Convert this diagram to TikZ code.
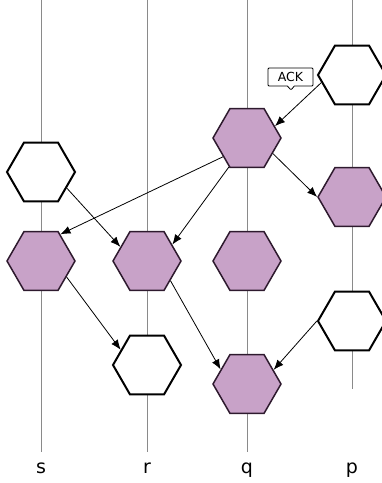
\documentclass[tikz,border=0pt]{standalone}
\usepackage{fontspec}
\setmainfont{DejaVu Sans}
\usetikzlibrary{shapes.geometric,shapes.callouts,arrows.meta}
\definecolor{evt}{HTML}{C8A2C8}
\definecolor{evtedge}{HTML}{2E1A2E}
\definecolor{lifegray}{HTML}{8A8A8A}
\begin{document}
\begin{tikzpicture}[x=1pt,y=-1pt,
  hexw/.style={regular polygon,regular polygon sides=6,minimum size=68pt,
    inner sep=0pt,draw=black,line width=2pt,fill=white},
  hexp/.style={hexw,fill=evt,draw=evtedge,line width=1.5pt},
  life/.style={draw=lifegray,line width=0.9pt},
  msg/.style={-{Latex[length=10pt,width=8pt]},line width=0.8pt},
  lbl/.style={anchor=base,font=\fontsize{19}{22}\selectfont}]
\clip (0,0) rectangle (382,483);

% lifelines
\coordinate (s-top) at (41,0);   \coordinate (s-end) at (41,452);
\coordinate (r-top) at (147,0);  \coordinate (r-end) at (147,452);
\coordinate (q-top) at (247,0);  \coordinate (q-end) at (247,452);
\coordinate (p-top) at (352,0);  \coordinate (p-end) at (352,389);
\draw[life] (s-top) -- (s-end);
\draw[life] (r-top) -- (r-end);
\draw[life] (q-top) -- (q-end);
\draw[life] (p-top) -- (p-end);

% events
\node[hexw] (p1) at (352,75) {};
\node[hexp] (q1) at (247,138) {};
\node[hexp] (p2) at (352,197) {};
\node[hexw] (s1) at (41,172) {};
\node[hexp] (s2) at (41,261) {};
\node[hexp] (r1) at (147,261) {};
\node[hexp] (q2) at (247,261) {};
\node[hexw] (p3) at (352,321) {};
\node[hexw] (r2) at (147,365) {};
\node[hexp] (q3) at (247,384) {};

% messages
\draw[msg] (p1.194) -- (q1.23);
\draw[msg] (q1.-31) -- (p2.180);
\draw[msg] (q1.218) -- (s2.54);
\draw[msg] (q1.238) -- (r1.33);
\draw[msg] (s1.-32) -- (r1.152);
\draw[msg] (s2.-32) -- (r2.150);
\draw[msg] (r1.-40) -- (q3.151);
\draw[msg] (p3.180) -- (q3.28);

% acknowledgement tag
\node[rectangle callout,draw=black,line width=0.8pt,fill=white,rounded corners=1pt,
  minimum width=45pt,minimum height=18pt,inner sep=0pt,
  callout absolute pointer={(291,90)},callout pointer width=7pt,
  font=\fontsize{12.5}{14}\selectfont] (ack) at (290.5,77) {ACK};

% process names
\node[lbl] (ls) at (41,473) {s};
\node[lbl] (lr) at (147,473) {r};
\node[lbl] (lq) at (247,473) {q};
\node[lbl] (lp) at (352,473) {p};
\end{tikzpicture}
\end{document}
